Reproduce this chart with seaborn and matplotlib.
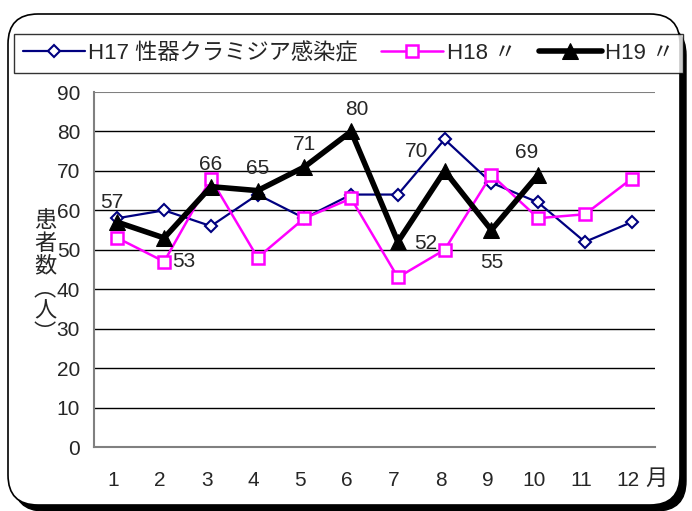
import matplotlib
matplotlib.use("Agg")
import matplotlib.pyplot as plt
from matplotlib.patches import FancyBboxPatch
import pandas as pd
import seaborn as sns

# ------------------------------------------------------------
# Data
# ------------------------------------------------------------
months = [1, 2, 3, 4, 5, 6, 7, 8, 9, 10, 11, 12]
h17 = [58, 60, 56, 64, 58, 64, 64, 78, 67, 62, 52, 57]
h18 = [53, 47, 68, 48, 58, 63, 43, 50, 69, 58, 59, 68]
h19 = [57, 53, 66, 65, 71, 80, 52, 70, 55, 69]
series_names = ["H17 性器クラミジア感染症", "H18 〃", "H19 〃"]
y_ticks = [0, 10, 20, 30, 40, 50, 60, 70, 80, 90]

# label offsets (points) for the H19 value labels
label_offsets = [(-4, 14), (14, -17), (0, 16), (0, 16), (0, 16),
                 (4, 16), (20, -1), (-20, 14), (0, -23), (-8, 16)]
TICK_LABEL_SHIFT = -0.085  # month labels sit a little left of the slot centre

sns.set_style("white")
plt.rcParams["font.family"] = ["Liberation Sans", "Noto Sans CJK JP", "DejaVu Sans"]

fig = plt.figure(figsize=(6.92, 5.11), dpi=100)

# rounded outer frame with a drop shadow (inches, so corners stay round)
shadow = FancyBboxPatch((0.14, 0.0), 6.72, 4.86, boxstyle="round,pad=0,rounding_size=0.3",
                        transform=fig.dpi_scale_trans, facecolor="black", edgecolor="black",
                        zorder=-2)
frame = FancyBboxPatch((0.08, 0.06), 6.72, 4.91, boxstyle="round,pad=0,rounding_size=0.3",
                       transform=fig.dpi_scale_trans, facecolor="white", edgecolor="black",
                       lw=1.2, zorder=-1)
fig.patches.extend([shadow, frame])

ax = fig.add_axes([94 / 692, 1 - 447 / 511, (655 - 94) / 692, (447 - 92) / 511])
ax.set_facecolor("none")

df17 = pd.DataFrame({"month": months, "v": h17})
df18 = pd.DataFrame({"month": months, "v": h18})
df19 = pd.DataFrame({"month": months[:len(h19)], "v": h19})

sns.lineplot(data=df17, x="month", y="v", ax=ax, color="#000080", lw=1.6,
             marker="D", markersize=6, markerfacecolor="white", markeredgecolor="#000080",
             markeredgewidth=1.5, label=series_names[0], zorder=3)
sns.lineplot(data=df18, x="month", y="v", ax=ax, color="#FF00FF", lw=1.8,
             marker="s", markersize=8, markerfacecolor="white", markeredgecolor="#FF00FF",
             markeredgewidth=1.8, label=series_names[1], zorder=4)
sns.lineplot(data=df19, x="month", y="v", ax=ax, color="black", lw=4,
             marker="^", markersize=12, markerfacecolor="black", markeredgecolor="black",
             label=series_names[2], zorder=5)

for m, v, off in zip(months, h19, label_offsets):
    ax.annotate(str(v), (m, v), xytext=off, textcoords="offset points",
                ha="center", va="center", fontsize=15, zorder=6)

ax.set_xlim(0.5, 12.5)
ax.set_ylim(0, 90)
ax.set_yticks(y_ticks)
ax.set_xticks([m + 0.5 for m in range(0, 13)], minor=False)
ax.set_xticklabels([])
ax.set_xticks([m + TICK_LABEL_SHIFT for m in months], minor=True)
ax.set_xticklabels([str(m) for m in months], minor=True, fontsize=15)
ax.tick_params(axis="x", which="major", direction="in", length=6, color="black")
ax.tick_params(axis="x", which="minor", length=0, pad=17)
ax.tick_params(axis="y", labelsize=15, length=0, pad=10)
ax.set_xlabel("")
ax.set_ylabel("")
for y in y_ticks[1:-1]:
    ax.axhline(y, color="black", lw=1, zorder=1)
ax.axhline(90, color="#808080", lw=1.5, zorder=1)
for side in ["top", "right"]:
    ax.spines[side].set_visible(False)
for side in ["left", "bottom"]:
    ax.spines[side].set_color("#808080")
    ax.spines[side].set_linewidth(1.5)

ax.text(12.3, -0.092, "月", transform=ax.get_xaxis_transform(), fontsize=16,
        ha="left", va="center")
fig.text(45 / 692, 1 - 278 / 511, "患\n者\n数\n︵\n人\n︶", fontsize=16,
         ha="center", va="center", linespacing=1.1)

handles, labels = ax.get_legend_handles_labels()
ax.get_legend().remove()
leg = fig.legend(handles, labels, loc="lower left", ncol=3, mode="expand",
                 bbox_to_anchor=(14 / 692, 1 - 73 / 511, 669 / 692, 38 / 511),
                 frameon=True, fancybox=False, edgecolor="black", fontsize=16,
                 handlelength=2.8, handletextpad=0.15, borderaxespad=0)
leg.get_frame().set_linewidth(1)

fig.savefig("out.png", dpi=100)
